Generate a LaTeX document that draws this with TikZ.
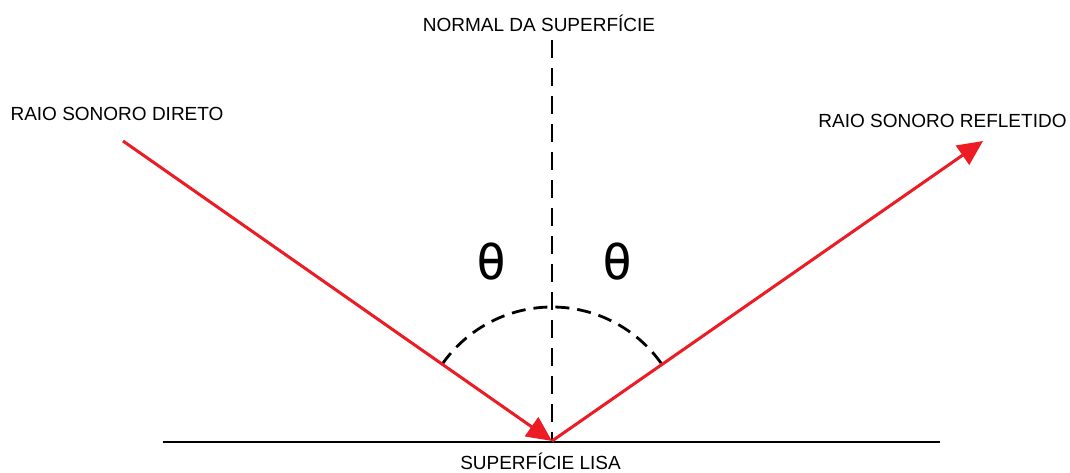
\documentclass[tikz,border=0pt]{standalone}
\usepackage{fontspec}
\setmainfont{Liberation Sans}
\newfontfamily\thetafont{DejaVu Sans Mono}
\usetikzlibrary{arrows.meta,calc}
\definecolor{rayred}{RGB}{237,28,36}
\tikzset{
  ray/.style={draw=rayred, line width=3pt},
  raytip/.style={-{Triangle[length=25pt,width=23pt]}},
  normalline/.style={draw=black, line width=2.8pt, dash pattern=on 18pt off 10pt},
  anglearc/.style={draw=black, line width=2.8pt, dash pattern=on 14pt off 8pt},
  surface/.style={draw=black, line width=2.8pt},
  lbl/.style={font=\fontsize{19}{22}\selectfont, anchor=base, inner sep=0pt},
  thetalbl/.style={font=\thetafont\fontsize{50}{52}\selectfont, inner sep=0pt}
}
\begin{document}
\begin{tikzpicture}[x=1pt,y=1pt]
\useasboundingbox (0,0) rectangle (1070,473);
\fill[white] (0,0) rectangle (1070,473);
% key points
\coordinate (O) at (552,32);
\coordinate (A) at (123,332);
\coordinate (B) at (983,332);
\coordinate (N) at (552,433);
\coordinate (S1) at (163,31);
\coordinate (S2) at (940,31);
% surface
\draw[surface] (S1) -- (S2);
% normal
\draw[normalline] (N) -- (O);
% angle arc
\draw[anglearc] ($(O)+(145:134pt)$) arc[start angle=145, end angle=35, radius=134pt];
% rays
\draw[ray, raytip] (A) -- (O);
\draw[ray, raytip] (O) -- (B);
% labels
\node[lbl] (normlbl) at (539,441) {NORMAL DA SUPERFÍCIE};
\node[lbl] (dirlbl) at (117,352.3) {RAIO SONORO DIRETO};
\node[lbl] (reflbl) at (942.5,345.5) {RAIO SONORO REFLETIDO};
\node[lbl] (lisalbl) at (540.5,3.5) {SUPERFÍCIE LISA};
\node[thetalbl] (th1) at (491.5,211) {θ};
\node[thetalbl] (th2) at (617.5,211) {θ};
\end{tikzpicture}
\end{document}
